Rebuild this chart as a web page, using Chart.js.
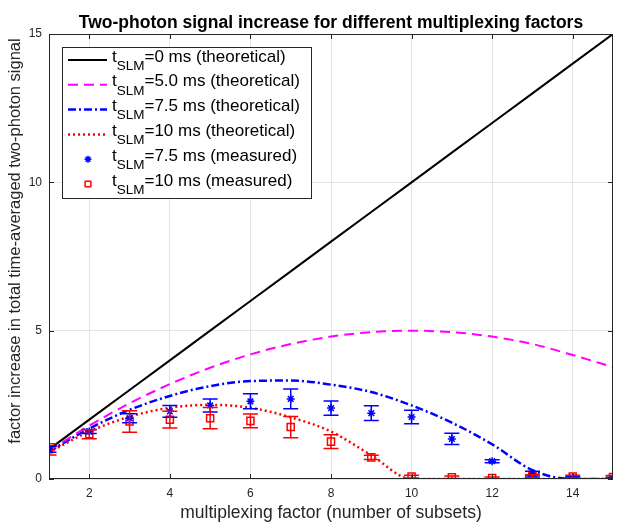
<!DOCTYPE html>
<html>
<head>
<meta charset="utf-8">
<title>Two-photon signal increase</title>
<script src="https://cdn.jsdelivr.net/npm/chart.js@4.4.1/dist/chart.umd.min.js"></script>
<style>
  html, body { margin: 0; padding: 0; background: #fff; }
  #wrap { width: 628px; height: 526px; }
</style>
</head>
<body>
<div id="wrap"><canvas id="Chart" width="628" height="526"></canvas></div>
<script>
// multiplexing factor (number of subsets)
const factors = [1, 2, 3, 4, 5, 6, 7, 8, 9, 10, 11, 12, 13, 14, 15];

// theoretical curves
const theoryT0 = [1, 2, 3, 4, 5, 6, 7, 8, 9, 10, 11, 12, 13, 14, 15];
const theoryT5 = [0.95, 1.8, 2.55, 3.2, 3.75, 4.2, 4.55, 4.8, 4.95, 5.0, 4.95, 4.8, 4.55, 4.18, 3.77];
const theoryT75 = [0.93, 1.7, 2.33, 2.8, 3.13, 3.3, 3.32, 3.18, 2.93, 2.48, 1.9, 1.17, 0.3, 0, 0];
const theoryT10 = [0.9, 1.6, 2.1, 2.4, 2.5, 2.4, 2.08, 1.6, 0.8, 0, 0, 0, 0, 0, 0];

// measured points + error bar half-lengths
const measured75 = [1.0, 1.6, 2.05, 2.28, 2.48, 2.62, 2.7, 2.39, 2.22, 2.09, 1.35, 0.6, 0.18, 0.05, 0.03];
const measured75Err = [0.1, 0.07, 0.15, 0.2, 0.22, 0.25, 0.33, 0.24, 0.25, 0.23, 0.19, 0.05, 0.08, 0.03, 0.03];
const measured10 = [1.0, 1.51, 1.94, 2.0, 2.05, 1.96, 1.75, 1.26, 0.73, 0.08, 0.06, 0.03, 0.09, 0.08, 0.07];
const measured10Err = [0.19, 0.15, 0.36, 0.28, 0.36, 0.23, 0.36, 0.23, 0.07, 0.05, 0.04, 0.04, 0.05, 0.05, 0.05];

const xTicks = [2, 4, 6, 8, 10, 12, 14];
const yTicks = [0, 5, 10, 15];

const titleText = 'Two-photon signal increase for different multiplexing factors';
const yLabelText = 'factor increase in total time-averaged two-photon signal';
const legendLabels = [
  '=0 ms (theoretical)',
  '=5.0 ms (theoretical)',
  '=7.5 ms (theoretical)',
  '=10 ms (theoretical)',
  '=7.5 ms (measured)',
  '=10 ms (measured)'
];

const FONT = "'Liberation Sans', Arial, Helvetica, sans-serif";
const AXIS_COLOR = '#262626';

function toPoints(ys) {
  return factors.map((x, i) => ({ x: x, y: ys[i] }));
}

// error bars for the measured series
const errorBars = {
  id: 'errorBars',
  afterDatasetsDraw(chart) {
    const { ctx, chartArea, scales } = chart;
    ctx.save();
    ctx.beginPath();
    ctx.rect(chartArea.left, chartArea.top, chartArea.right - chartArea.left, chartArea.bottom - chartArea.top);
    ctx.clip();
    chart.data.datasets.forEach(ds => {
      if (!ds.errors) return;
      ctx.strokeStyle = ds.borderColor;
      ctx.lineWidth = 1.5;
      ds.data.forEach((p, i) => {
        const x = scales.x.getPixelForValue(p.x);
        const y1 = scales.y.getPixelForValue(p.y - ds.errors[i]);
        const y2 = scales.y.getPixelForValue(p.y + ds.errors[i]);
        ctx.beginPath();
        ctx.moveTo(x, y1); ctx.lineTo(x, y2);
        ctx.moveTo(x - 7.5, y1); ctx.lineTo(x + 7.5, y1);
        ctx.moveTo(x - 7.5, y2); ctx.lineTo(x + 7.5, y2);
        ctx.stroke();
      });
    });
    ctx.restore();
  }
};

// matlab style box with inner ticks, title, y label and the boxed legend
const boxAndLegend = {
  id: 'boxAndLegend',
  afterDraw(chart) {
    const { ctx, chartArea: a, scales } = chart;
    ctx.save();
    ctx.strokeStyle = AXIS_COLOR;
    ctx.lineWidth = 1;
    ctx.setLineDash([]);
    ctx.strokeRect(a.left + 0.5, a.top + 0.5, a.right - a.left - 1, a.bottom - a.top - 1);
    ctx.beginPath();
    xTicks.forEach(v => {
      const x = Math.round(scales.x.getPixelForValue(v)) + 0.5;
      ctx.moveTo(x, a.bottom); ctx.lineTo(x, a.bottom - 5);
      ctx.moveTo(x, a.top); ctx.lineTo(x, a.top + 5);
    });
    yTicks.forEach(v => {
      const y = Math.round(scales.y.getPixelForValue(v)) + 0.5;
      ctx.moveTo(a.left, y); ctx.lineTo(a.left + 5, y);
      ctx.moveTo(a.right, y); ctx.lineTo(a.right - 5, y);
    });
    ctx.stroke();

    // title, centred over the axes
    ctx.fillStyle = '#000';
    ctx.textAlign = 'center';
    ctx.textBaseline = 'alphabetic';
    ctx.font = 'bold 17.5px ' + FONT;
    ctx.fillText(titleText, (a.left + a.right) / 2, 28);

    // y axis label
    ctx.save();
    ctx.translate(20, 241);
    ctx.rotate(-Math.PI / 2);
    ctx.fillStyle = AXIS_COLOR;
    ctx.font = '16.5px ' + FONT;
    ctx.textBaseline = 'alphabetic';
    ctx.fillText(yLabelText, 0, 0);
    ctx.restore();

    // legend
    const box = { left: 62, top: 47, right: 311, bottom: 198 };
    ctx.fillStyle = '#fff';
    ctx.fillRect(box.left, box.top, box.right - box.left, box.bottom - box.top);
    ctx.strokeStyle = AXIS_COLOR;
    ctx.strokeRect(box.left + 0.5, box.top + 0.5, box.right - box.left, box.bottom - box.top);

    const legendSets = [2, 3, 4, 5, 0, 1];  // dataset index for each legend row
    legendSets.forEach((di, r) => {
      const ds = chart.data.datasets[di];
      const rowY = 60 + r * 24.8;
      ctx.save();
      if (ds.showLine === false) {
        ctx.strokeStyle = ds.borderColor;
        ctx.fillStyle = ds.backgroundColor;
        ctx.lineWidth = 1.5;
        Chart.helpers.drawPoint(ctx, {
          pointStyle: ds.pointStyle,
          radius: ds.pointStyle === 'star' ? 3.5 : 4,
          rotation: 0,
          borderWidth: 1.5
        }, 88, rowY);
      } else {
        ctx.strokeStyle = ds.borderColor;
        ctx.lineWidth = ds.borderWidth;
        ctx.setLineDash(ds.borderDash || []);
        ctx.beginPath();
        ctx.moveTo(68, rowY); ctx.lineTo(107, rowY);
        ctx.stroke();
      }
      ctx.restore();

      ctx.fillStyle = '#000';
      ctx.textBaseline = 'middle';
      ctx.textAlign = 'left';
      ctx.font = '17px ' + FONT;
      let x = 112;
      ctx.fillText('t', x, rowY - 3);
      x += ctx.measureText('t').width;
      ctx.font = '13.5px ' + FONT;
      ctx.fillText('SLM', x, rowY + 6);
      x += ctx.measureText('SLM').width;
      ctx.font = '17px ' + FONT;
      ctx.fillText(legendLabels[r], x, rowY - 3);
    });
    ctx.restore();
  }
};

const chartData = {
  datasets: [
    {
      label: 'tSLM=7.5 ms (measured)',
      data: toPoints(measured75),
      errors: measured75Err,
      showLine: false,
      pointStyle: 'star',
      pointRadius: 4,
      pointBorderWidth: 1.5,
      borderColor: '#0000ff',
      backgroundColor: '#0000ff',
      order: 0
    },
    {
      label: 'tSLM=10 ms (measured)',
      data: toPoints(measured10),
      errors: measured10Err,
      showLine: false,
      pointStyle: 'rect',
      pointRadius: 5,
      pointBorderWidth: 1.5,
      borderColor: '#ff0000',
      backgroundColor: 'rgba(255,255,255,0)',
      order: 0
    },
    {
      label: 'tSLM=0 ms (theoretical)',
      data: toPoints(theoryT0),
      borderColor: '#000000',
      borderWidth: 2,
      pointRadius: 0,
      tension: 0,
      order: 1
    },
    {
      label: 'tSLM=5.0 ms (theoretical)',
      data: toPoints(theoryT5),
      borderColor: '#ff00ff',
      borderWidth: 2,
      borderDash: [10, 6],
      pointRadius: 0,
      cubicInterpolationMode: 'monotone',
      order: 1
    },
    {
      label: 'tSLM=7.5 ms (theoretical)',
      data: toPoints(theoryT75),
      borderColor: '#0000ff',
      borderWidth: 2.5,
      borderDash: [8, 3, 2, 3],
      pointRadius: 0,
      cubicInterpolationMode: 'monotone',
      order: 1
    },
    {
      label: 'tSLM=10 ms (theoretical)',
      data: toPoints(theoryT10),
      borderColor: '#ff0000',
      borderWidth: 2.5,
      borderDash: [2, 3],
      pointRadius: 0,
      cubicInterpolationMode: 'monotone',
      order: 1
    }
  ]
};

const chartConfig = {
  type: 'line',
  data: chartData,
  options: {
    responsive: false,
    animation: false,
    devicePixelRatio: 1,
    layout: { padding: { left: 0, right: 15, top: 34, bottom: 0 } },
    plugins: {
      legend: { display: false },
      tooltip: { enabled: false },
      title: { display: false }
    },
    scales: {
      x: {
        type: 'linear',
        min: 1,
        max: 15,
        afterBuildTicks: s => { s.ticks = xTicks.map(v => ({ value: v })); },
        afterFit: s => { s.height = 47; },
        grid: { color: '#e4e4e4', drawTicks: false },
        border: { display: false },
        ticks: { padding: 7, color: AXIS_COLOR, font: { family: FONT, size: 12 }, maxRotation: 0 },
        title: {
          display: true,
          text: 'multiplexing factor (number of subsets)',
          color: AXIS_COLOR,
          font: { family: FONT, size: 17.5 },
          padding: { top: 0, bottom: 2 }
        }
      },
      y: {
        type: 'linear',
        min: 0,
        max: 15,
        afterBuildTicks: s => { s.ticks = yTicks.map(v => ({ value: v })); },
        afterFit: s => { s.width = 49; },
        grid: { color: '#e4e4e4', drawTicks: false },
        border: { display: false },
        ticks: { padding: 7, color: AXIS_COLOR, font: { family: FONT, size: 12 } },
        title: { display: false }
      }
    }
  },
  plugins: [errorBars, boxAndLegend]
};

new Chart(document.getElementById('Chart'), chartConfig);
</script>
</body>
</html>
